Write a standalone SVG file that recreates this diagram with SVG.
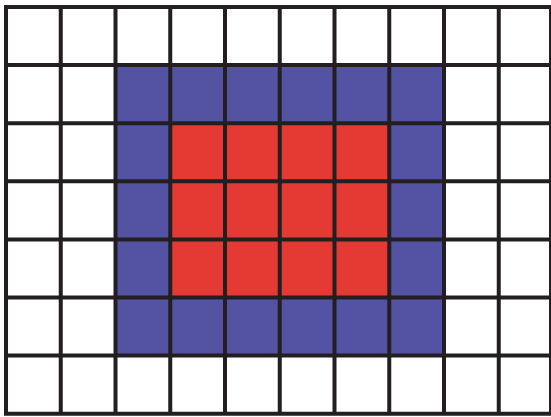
<svg xmlns="http://www.w3.org/2000/svg" width="551" height="417" viewBox="0 0 551 417">
<style>
.blue{fill:#5452A3}
.red{fill:#E53A33}
.grid{stroke:#231F20;stroke-width:4;fill:none}
</style>
<rect width="551" height="417" fill="#ffffff"/>
<g id="blue-region"><rect class="blue" x="115.5" y="65.1" width="328.5" height="290.5"/></g>
<g id="red-region"><rect class="red" x="170.25" y="123.2" width="219" height="174.3"/></g>
<g id="grid">
<path class="grid" d="M6,7V414M60.75,7V414M115.5,7V414M170.25,7V414M225,7V414M279.75,7V414M334.5,7V414M389.25,7V414M444,7V414M498.75,7V414M551,7V414"/>
<path class="grid" d="M4,7H553M4,65.1H553M4,123.2H553M4,181.3H553M4,239.4H553M4,297.5H553M4,355.6H553M4,413.7H553"/>
</g>
</svg>
